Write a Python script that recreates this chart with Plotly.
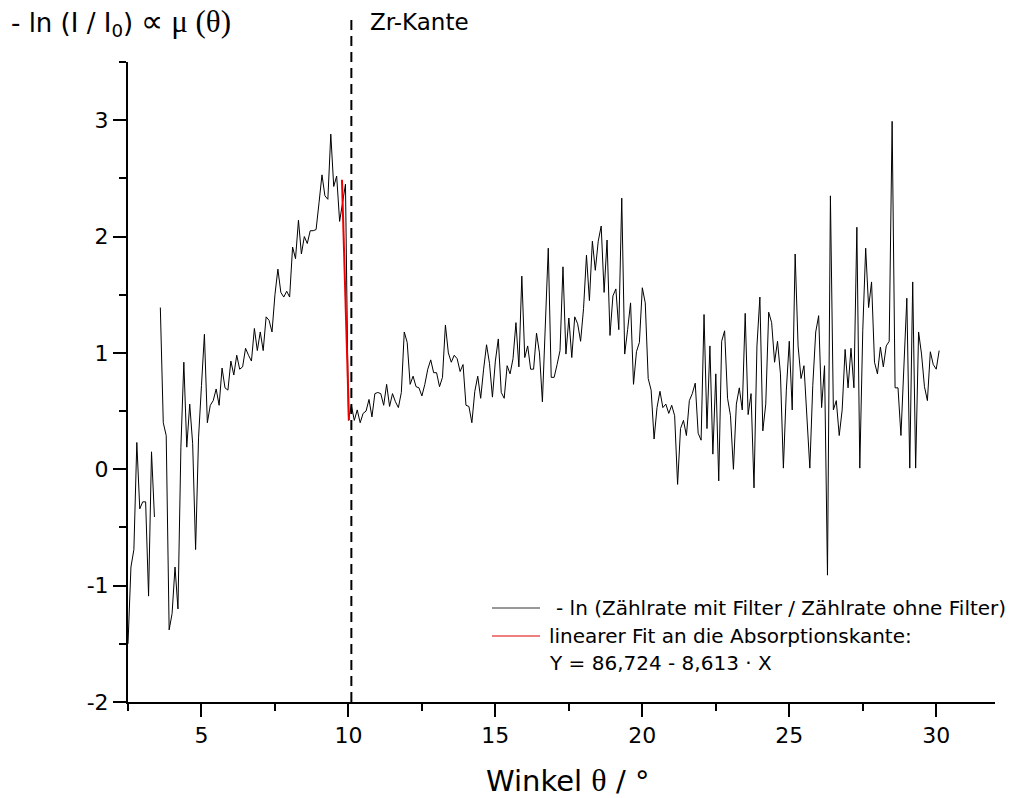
import plotly.graph_objects as go

# ---------------- data ----------------
angle_start = 2.5      # first measured angle (deg)
angle_step = 0.1       # goniometer step (deg)

# -ln(I/I0) values, one per angle step (None = missing point)
mu_2 = [-1.50, -0.84, -0.69, 0.23, -0.34, -0.28, -0.28, -1.09, 0.15, -0.41]
mu_3 = [None, 1.39, 0.40, 0.29, -1.38, -1.24, -0.84, -1.20, 0.19, 0.92]
mu_4 = [0.19, 0.56, 0.22, -0.69, 0.27, 0.72, 1.16, 0.40, 0.55, 0.59]
mu_5 = [0.69, 0.55, 0.87, 0.70, 0.68, 0.93, 0.81, 0.98, 0.86, 0.88]
mu_6 = [1.04, 0.98, 0.93, 1.21, 1.02, 1.18, 1.02, 1.31, 1.28, 1.18]
mu_7 = [1.50, 1.72, 1.52, 1.48, 1.53, 1.48, 1.91, 1.81, 2.14, 1.85]
mu_8 = [2.00, 1.94, 2.05, 2.05, 2.06, 2.29, 2.53, 2.35, 2.32, 2.88]
mu_9 = [2.43, 2.52, 2.13, 2.29, 2.45, 0.42, 0.55, 0.42, 0.51, 0.40]
mu_10 = [0.48, 0.50, 0.60, 0.45, 0.65, 0.66, 0.65, 0.55, 0.73, 0.54]
mu_11 = [0.65, 0.58, 0.53, 0.66, 1.18, 1.09, 0.73, 0.80, 0.71, 0.70]
mu_12 = [0.63, 0.73, 0.86, 0.94, 0.83, 0.83, 0.71, 0.79, 1.24, 1.00]
mu_13 = [0.92, 0.98, 0.95, 0.84, 0.90, 0.55, 0.54, 0.40, 0.67, 0.80]
mu_14 = [0.61, 0.86, 1.07, 0.91, 0.62, 0.93, 1.12, 0.66, 0.61, 0.89]
mu_15 = [0.82, 0.95, 1.26, 0.88, 1.66, 0.96, 1.06, 0.86, 0.86, 1.17]
mu_16 = [1.00, 0.58, 1.30, 1.90, 0.79, 0.79, 0.90, 1.02, 1.74, 0.99]
mu_17 = [1.30, 0.96, 1.31, 1.25, 1.10, 1.38, 1.84, 1.45, 1.96, 1.71]
mu_18 = [1.96, 2.09, 1.52, 1.97, 1.15, 1.49, 1.55, 1.20, 2.33, 0.99]
mu_19 = [1.20, 1.43, 0.73, 1.01, 1.09, 1.56, 1.43, 0.78, 0.68, 0.26]
mu_20 = [0.53, 0.67, 0.53, 0.56, 0.48, 0.55, 0.46, -0.13, 0.35, 0.42]
mu_21 = [0.29, 0.59, 0.65, 0.74, 0.31, 0.25, 1.33, 0.35, 1.06, 0.13]
mu_22 = [0.82, -0.10, 1.10, 1.19, 0.61, 0.46, 0.00, 0.56, 0.70, 0.51]
mu_23 = [1.34, 0.47, 0.65, -0.16, 1.06, 1.48, 0.33, 0.56, 1.35, 1.26]
mu_24 = [0.92, 1.10, 0.82, 0.01, 0.68, 1.10, 0.51, 1.85, 1.06, 0.78]
mu_25 = [0.89, 0.42, 0.01, 0.72, 1.18, 1.32, 0.53, 0.89, -0.91, 2.35]
mu_26 = [0.51, 0.59, 0.29, 0.51, 1.03, 0.70, 1.04, 0.70, 2.08, 0.01]
mu_27 = [1.19, 1.90, 1.39, 1.61, 0.92, 0.82, 1.05, 0.88, 1.06, 1.10]
mu_28 = [2.99, 0.70, 0.70, 0.29, 0.89, 1.47, 0.01, 1.61, 0.01, 1.18]
mu_29 = [0.99, 0.71, 0.59, 1.01, 0.90, 0.86, 1.02]

mu_values = (mu_2 + mu_3 + mu_4 + mu_5 + mu_6 + mu_7 + mu_8 + mu_9 + mu_10
             + mu_11 + mu_12 + mu_13 + mu_14 + mu_15 + mu_16 + mu_17 + mu_18
             + mu_19 + mu_20 + mu_21 + mu_22 + mu_23 + mu_24 + mu_25 + mu_26
             + mu_27 + mu_28 + mu_29)
angles = [round(angle_start + angle_step * i, 2) for i in range(len(mu_values))]

# linear fit at the absorption edge: Y = a + b*X
fit_a = 86.724
fit_b = -8.613
fit_x = [9.78, 10.02]
fit_y = [fit_a + fit_b * x for x in fit_x]

edge_angle = 10.1
edge_label = "Zr-Kante"

x_ticks = [5, 10, 15, 20, 25, 30]
x_ticktext = ["5", "10", "15", "20", "25", "30"]
y_ticks = [-2, -1, 0, 1, 2, 3]
y_ticktext = ["-2", "-1", "0", "1", "2", "3"]

legend_data = "- ln (Zählrate mit Filter / Zählrate ohne Filter)"
legend_fit = "linearer Fit an die Absorptionskante:"
legend_fit_eq = "Y = 86,724 - 8,613 · X"

FONT = "DejaVu Sans, Liberation Sans, Arial, sans-serif"

fig = go.Figure()
fig.add_trace(go.Scatter(x=angles, y=mu_values, mode="lines",
                         line=dict(color="black", width=1),
                         connectgaps=False, showlegend=False))
fig.add_trace(go.Scatter(x=fit_x, y=fit_y, mode="lines",
                         line=dict(color="#ee0000", width=2),
                         showlegend=False))

# Zr edge dashed line (extends above plot area)
fig.add_shape(type="line", xref="x", yref="paper", x0=edge_angle, x1=edge_angle,
              y0=0, y1=1.073, line=dict(color="black", width=2, dash="10px,6px"))

fig.add_annotation(xref="x", yref="paper", x=edge_angle, y=1.062,
                   xanchor="left", yanchor="middle", xshift=17,
                   text=edge_label, showarrow=False,
                   font=dict(family=FONT, size=23, color="black"))

fig.add_annotation(xref="paper", yref="paper", x=-0.137, y=1.062,
                   xanchor="left", yanchor="middle",
                   text=("- ln (I / I<sub>0</sub>) "
                         "<span style='font-family:Liberation Serif;font-size:31px'>∝ μ (θ)</span>"),
                   showarrow=False,
                   font=dict(family=FONT, size=26, color="black"))

fig.add_annotation(xref="paper", yref="paper", x=0.507, y=-0.122,
                   xanchor="center", yanchor="middle",
                   text="Winkel <span style='font-family:Liberation Serif;font-size:32px'>θ</span> / °",
                   showarrow=False,
                   font=dict(family=FONT, size=29, color="black"))

# ---- legend (drawn by hand for exact layout) ----
def px_x(px):
    return (px - 128) / 867.0

def px_y(py):
    return (702 - py) / 640.0

fig.add_shape(type="line", xref="paper", yref="paper",
              x0=px_x(492), x1=px_x(540), y0=px_y(608), y1=px_y(608),
              line=dict(color="#333333", width=1))
fig.add_shape(type="line", xref="paper", yref="paper",
              x0=px_x(492), x1=px_x(540), y0=px_y(636), y1=px_y(636),
              line=dict(color="#dd0000", width=1.2))
for txt, xx, yy in [(legend_data, 554, 608), (legend_fit, 547, 636),
                    (legend_fit_eq, 547, 663)]:
    fig.add_annotation(xref="paper", yref="paper", x=px_x(xx), y=px_y(yy),
                       xanchor="left", yanchor="middle", text=txt,
                       showarrow=False,
                       font=dict(family=FONT, size=20, color="black"))

axis_common = dict(showline=True, linewidth=2, linecolor="black",
                   ticks="outside", ticklen=13, tickwidth=2, tickcolor="black",
                   showgrid=False, zeroline=False,
                   tickfont=dict(family=FONT, size=22, color="black"))

fig.update_xaxes(range=[2.5, 32], tickvals=x_ticks, ticktext=x_ticktext,
                 minor=dict(dtick=2.5, tick0=0, ticks="outside", ticklen=7,
                            tickwidth=2, tickcolor="black", showgrid=False),
                 **axis_common)
fig.update_yaxes(range=[-2, 3.5], tickvals=y_ticks, ticktext=y_ticktext,
                 minor=dict(dtick=0.5, tick0=0, ticks="outside", ticklen=7,
                            tickwidth=2, tickcolor="black", showgrid=False),
                 **axis_common)

# page body has an 8px margin -> figure sized/placed to fill the 1018x798 view
fig.update_layout(
    width=1010, height=790,
    margin=dict(l=120, r=23, t=54, b=96),
    paper_bgcolor="white", plot_bgcolor="white",
    showlegend=False,
)

fig.write_html("out.html")
